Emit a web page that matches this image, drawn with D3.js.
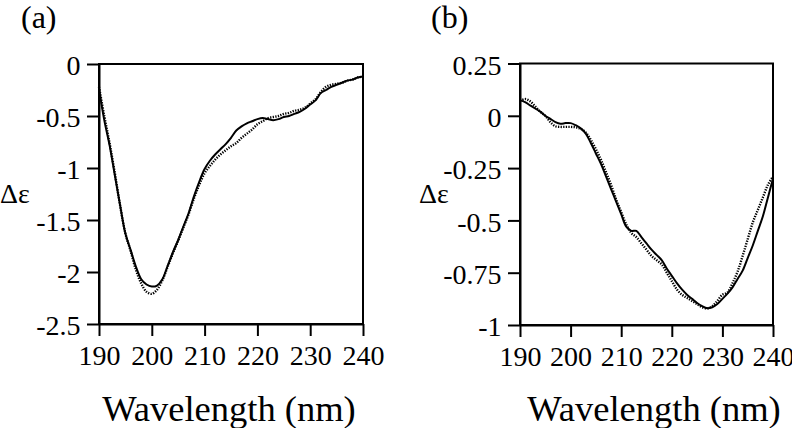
<!DOCTYPE html>
<html><head><meta charset="utf-8">
<script src="https://cdn.jsdelivr.net/npm/d3@7"></script>
<style>
html,body{margin:0;padding:0;background:#fff;}
svg{display:block;}
</style></head>
<body>
<svg id="c" width="792" height="428"></svg>
<script>
// Wavelengths (nm), 1 nm steps
const wavelengths = d3.range(190, 241, 1);

// Panel (a)
const aSolid = [-0.24,-0.54,-0.78,-1.07,-1.36,-1.63,-1.79,-1.95,-2.07,-2.12,
  -2.14,-2.13,-2.07,-1.94,-1.81,-1.69,-1.56,-1.43,-1.27,-1.13,
  -1.01,-0.93,-0.87,-0.82,-0.77,-0.71,-0.64,-0.60,-0.57,-0.55,
  -0.53,-0.52,-0.53,-0.54,-0.53,-0.51,-0.50,-0.48,-0.46,-0.43,
  -0.39,-0.35,-0.28,-0.25,-0.22,-0.20,-0.18,-0.16,-0.15,-0.13,-0.12];
const aDotted = [-0.22,-0.50,-0.76,-1.05,-1.36,-1.63,-1.80,-1.98,-2.11,-2.19,
  -2.21,-2.17,-2.08,-1.95,-1.82,-1.70,-1.57,-1.44,-1.29,-1.16,
  -1.05,-0.98,-0.92,-0.87,-0.83,-0.79,-0.76,-0.71,-0.67,-0.63,
  -0.58,-0.55,-0.52,-0.51,-0.50,-0.48,-0.47,-0.45,-0.44,-0.42,
  -0.38,-0.34,-0.27,-0.22,-0.20,-0.19,-0.18,-0.16,-0.15,-0.13,-0.12];

// Panel (b)
const bSolid = [0.075,0.065,0.05,0.035,0.02,0.00,-0.015,-0.03,-0.038,-0.035,
  -0.035,-0.045,-0.06,-0.085,-0.13,-0.18,-0.23,-0.29,-0.35,-0.41,
  -0.47,-0.53,-0.55,-0.55,-0.58,-0.61,-0.64,-0.665,-0.69,-0.73,
  -0.765,-0.80,-0.83,-0.855,-0.875,-0.895,-0.91,-0.92,-0.915,-0.90,
  -0.875,-0.85,-0.82,-0.78,-0.74,-0.68,-0.62,-0.55,-0.48,-0.39,-0.30];
const bDotted = [0.07,0.08,0.07,0.045,0.02,0.00,-0.03,-0.05,-0.053,-0.053,
  -0.053,-0.055,-0.062,-0.08,-0.115,-0.16,-0.21,-0.27,-0.33,-0.40,
  -0.46,-0.52,-0.56,-0.58,-0.61,-0.64,-0.67,-0.69,-0.71,-0.75,
  -0.79,-0.83,-0.855,-0.87,-0.885,-0.90,-0.915,-0.92,-0.91,-0.885,
  -0.855,-0.845,-0.80,-0.745,-0.67,-0.59,-0.51,-0.45,-0.39,-0.33,-0.29];

const xTicks = [190,200,210,220,230,240];
const aYTicks = [0,-0.5,-1,-1.5,-2,-2.5];
const aYLabels = ["0","-0.5","-1","-1.5","-2","-2.5"];
const bYTicks = [0.25,0,-0.25,-0.5,-0.75,-1];
const bYLabels = ["0.25","0","-0.25","-0.5","-0.75","-1"];
const panelLabels = ["(a)","(b)"];
const xTitle = "Wavelength (nm)";
const yTitle = "\u0394\u03b5";

const FONT = '"Liberation Serif"';
const svg = d3.select("#c");

const panels = [
  {label: panelLabels[0], x0: 99, x1: 363, y0: 64, y1: 324, dom: [-2.5, 0],
   ticks: aYTicks, tlabels: aYLabels, solid: aSolid, dotted: aDotted,
   labX: 21, titleX: 229, yTitleX: 0},
  {label: panelLabels[1], x0: 520, x1: 773, y0: 63.5, y1: 325, dom: [-1, 0.25],
   ticks: bYTicks, tlabels: bYLabels, solid: bSolid, dotted: bDotted,
   labX: 431, titleX: 654, yTitleX: 419}
];

panels.forEach(p => {
  const x = d3.scaleLinear().domain([190, 240]).range([p.x0, p.x1]);
  const y = d3.scaleLinear().domain(p.dom).range([p.y1, p.y0]);
  const g = svg.append("g");

  g.append("rect").attr("x", p.x0).attr("y", p.y0)
    .attr("width", p.x1 - p.x0).attr("height", p.y1 - p.y0)
    .attr("fill", "none").attr("stroke", "#000").attr("stroke-width", 2);

  const xa = g.append("g").attr("transform", `translate(0,${p.y1})`)
    .call(d3.axisBottom(x).tickValues(xTicks).tickSize(12).tickSizeOuter(0).tickPadding(4)
      .tickFormat(d3.format("d")));
  const ya = g.append("g").attr("transform", `translate(${p.x0},0)`)
    .call(d3.axisLeft(y).tickValues(p.ticks).tickSize(12).tickSizeOuter(0).tickPadding(6.5)
      .tickFormat((d, i) => p.tlabels[i]));
  [xa, ya].forEach(a => {
    a.select(".domain").attr("stroke-width", 2);
    a.selectAll(".tick line").attr("stroke-width", 2);
    a.selectAll(".tick text").attr("font-size", 28).style("font-family", FONT).attr("fill", "#000");
  });
  xa.selectAll(".tick text").attr("dy", "0.71em").attr("y", 21);
  ya.selectAll(".tick text").attr("dy", "0.38em");

  const line = d3.line().x((d, i) => x(wavelengths[i])).y(d => y(d)).curve(d3.curveCatmullRom);
  g.append("path").datum(p.dotted).attr("d", line).attr("fill", "none")
    .attr("stroke", "#000").attr("stroke-width", 2.4).attr("stroke-dasharray", "1.3,1.3");
  g.append("path").datum(p.solid).attr("d", line).attr("fill", "none")
    .attr("stroke", "#000").attr("stroke-width", 2);

  svg.append("text").attr("x", p.labX).attr("y", 28).attr("font-size", 32)
    .style("font-family", FONT).text(p.label);
  svg.append("text").attr("x", p.yTitleX).attr("y", 203).attr("font-size", 28)
    .style("font-family", FONT).text(yTitle);
  svg.append("text").attr("x", p.titleX).attr("y", 421).attr("font-size", 36.5)
    .style("font-family", FONT).attr("text-anchor", "middle").text(xTitle);
});
</script>
</body></html>
